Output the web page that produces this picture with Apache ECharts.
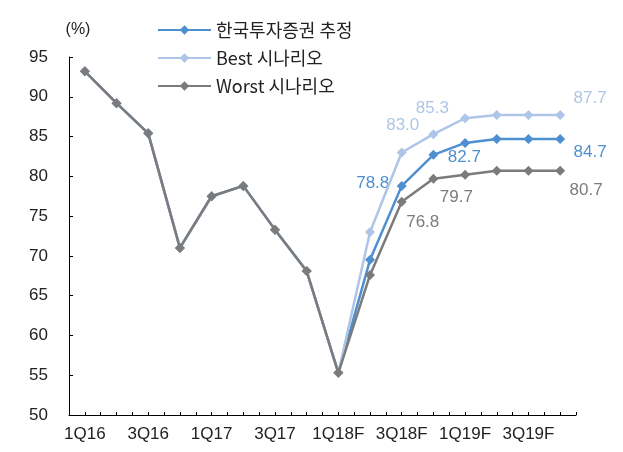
<!DOCTYPE html>
<html>
<head>
    <meta charset="utf-8" />
    <script type="text/javascript" src="https://cdn.jsdelivr.net/npm/echarts@6/dist/echarts.min.js"></script>
    <title></title>
    <style>
        body { margin: 0; background: #fff; }
        #main { width: 623px; height: 452px; }
    </style>
</head>
<body>
    <div id="main"></div>
    <script type="text/javascript">
    // 분기 (x축)
    var quarters = ['1Q16', '2Q16', '3Q16', '4Q16', '1Q17', '2Q17', '3Q17', '4Q17',
        '1Q18F', '2Q18F', '3Q18F', '4Q18F', '1Q19F', '2Q19F', '3Q19F', '4Q19F'];
    var seriesNames = ['한국투자증권 추정', 'Best 시나리오', 'Worst 시나리오'];
    // 값 (%)
    var baseCase = [93.2, 89.2, 85.4, 71.0, 77.5, 78.8, 73.3, 68.1, 55.3, 69.5, 78.8, 82.7, 84.2, 84.7, 84.7, 84.7];
    var bestCase = [93.2, 89.2, 85.4, 71.0, 77.5, 78.8, 73.3, 68.1, 55.3, 73.0, 83.0, 85.3, 87.3, 87.7, 87.7, 87.7];
    var worstCase = [93.2, 89.2, 85.4, 71.0, 77.5, 78.8, 73.3, 68.1, 55.3, 67.6, 76.8, 79.7, 80.2, 80.7, 80.7, 80.7];
    var yTicks = [50, 55, 60, 65, 70, 75, 80, 85, 90, 95];

    var colors = ['#4E8FD0', '#AEC5E8', '#7B7B7B'];
    var textFont = 'Liberation Sans';
    // 값 라벨 위치 (index: [dx, dy])
    var labelOffsets = [
        { 10: [-29, -3], 11: [31, 2], 15: [30, 13] },
        { 10: [1, -27], 11: [-1, -26], 15: [30, -17] },
        { 10: [21, 21], 11: [23, 19], 15: [26, 20] }
    ];

    var myChart = echarts.init(document.getElementById('main'));

    function buildData(values, k) {
        return values.map(function(v, i) {
            var off = labelOffsets[k][i];
            if (!off) return v;
            return {
                value: v,
                label: {
                    show: true,
                    position: 'inside',
                    offset: off,
                    formatter: function(p) { return p.value.toFixed(1); },
                    color: colors[k],
                    fontFamily: textFont,
                    fontSize: 17
                }
            };
        });
    }

    var allValues = [baseCase, bestCase, worstCase];
    var series = allValues.map(function(vals, k) {
        return {
            name: seriesNames[k],
            type: 'line',
            data: buildData(vals, k),
            symbol: 'diamond',
            symbolSize: 10,
            lineStyle: { width: 2.5, color: colors[k] },
            itemStyle: { color: colors[k] },
            z: 2 + k,
            animation: false
        };
    });

    var option = {
        backgroundColor: '#fff',
        grid: { left: 69, right: 47, top: 57, bottom: 37 },
        legend: {
            orient: 'vertical',
            left: 152,
            top: 15,
            itemWidth: 53,
            itemHeight: 12,
            itemGap: 8,
            data: seriesNames,
            textStyle: {
                fontFamily: 'Noto Sans CJK KR',
                fontSize: 18,
                color: '#222',
                lineHeight: 20
            }
        },
        xAxis: [{
            type: 'category',
            data: quarters,
            boundaryGap: true,
            axisLine: { lineStyle: { color: '#000', width: 1 } },
            axisTick: { show: false },
            axisLabel: {
                interval: 1,
                margin: 11,
                color: '#222',
                fontFamily: textFont,
                fontSize: 17
            },
            splitLine: { show: false }
        }, {
            // 보조 눈금 (반 분기 간격)
            type: 'category',
            position: 'bottom',
            data: quarters.flatMap(function() { return ['', '']; }),
            boundaryGap: true,
            axisLine: { show: false },
            axisTick: { show: true, inside: true, length: 3, lineStyle: { color: '#000' } },
            axisLabel: { show: false },
            splitLine: { show: false }
        }],
        yAxis: {
            type: 'value',
            min: yTicks[0],
            max: yTicks[yTicks.length - 1],
            interval: 5,
            name: '(%)',
            nameLocation: 'end',
            nameGap: 19,
            nameTextStyle: {
                color: '#222',
                fontFamily: textFont,
                fontSize: 16,
                align: 'center',
                padding: [0, 0, 0, 18]
            },
            axisLine: { show: true, lineStyle: { color: '#000', width: 1 } },
            axisTick: { show: true, inside: true, length: 4, lineStyle: { color: '#000' } },
            axisLabel: {
                margin: 21,
                color: '#222',
                fontFamily: textFont,
                fontSize: 17
            },
            splitLine: { show: false }
        },
        series: series
    };
    myChart.setOption(option);
    </script>
</body>
</html>
